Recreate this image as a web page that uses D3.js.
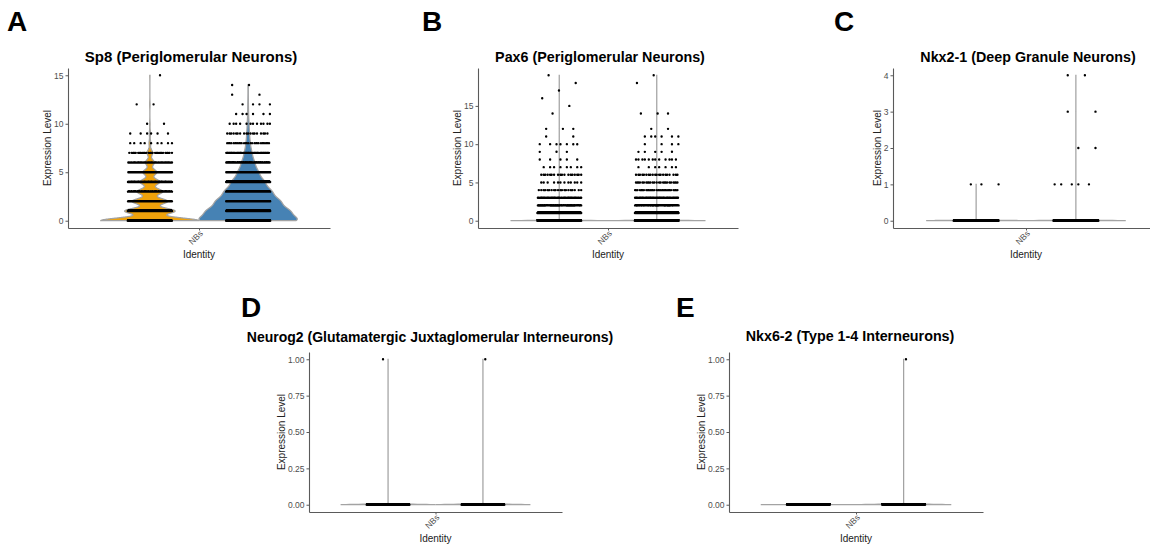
<!DOCTYPE html>
<html>
<head>
<meta charset="utf-8">
<script src="https://cdn.jsdelivr.net/npm/d3@7"></script>
<style>
  body { margin: 0; background: #fff; }
  svg { display: block; }
  text { font-family: "Liberation Sans", Arial, sans-serif; }
</style>
</head>
<body>
<svg id="fig" width="1150" height="548"></svg>
<script>
// Shared categories.
const identity = ['NBs']
const groups = ['g1', 'g2']
const groupColours = ['#EFA20B', '#4682B4']

// Sp8 (expression level -> number of cells per group).
const sp8Levels = [0, 1, 2, 3, 4, 5, 6, 7, 8, 9, 10, 11, 12, 13, 14, 15]
const sp8Left = [500, 255, 180, 130, 100, 70, 45, 28, 9, 6, 2, 0, 2, 0, 0, 1]
const sp8Right = [700, 540, 420, 310, 215, 135, 85, 50, 28, 18, 12, 6, 4, 2, 2, 0]

// Pax6.
const pax6Levels = [0, 1, 2, 3, 4, 5, 6, 7, 8, 9, 10, 11, 12, 13, 14, 15, 16, 17, 18, 19]
const pax6Left = [5000, 260, 90, 45, 20, 12, 18, 8, 5, 3, 7, 2, 3, 0, 1, 1, 1, 1, 1, 1]
const pax6Right = [5000, 280, 110, 50, 30, 25, 20, 7, 12, 5, 4, 6, 2, 0, 3, 0, 0, 0, 1, 1]

// Nkx2-1.
const nkx21Levels = [0, 1, 2, 3, 4]
const nkx21Left = [3000, 3, 0, 0, 0]
const nkx21Right = [3000, 5, 2, 2, 2]

// Neurog2.
const neurog2Levels = [0, 1]
const neurog2Left = [3000, 1]
const neurog2Right = [3000, 1]

// Nkx6-2.
const nkx62Levels = [0, 1]
const nkx62Left = [3000, 0]
const nkx62Right = [3000, 1]

// Tick labels.
const ticksSp8 = [0, 5, 10, 15]
const ticksPax6 = [0, 5, 10, 15]
const ticksNkx21 = [0, 1, 2, 3, 4]
const ticksFrac = [0, 0.25, 0.5, 0.75, 1]

const svg = d3.select('#fig')

// Panel layout (pixel frame of each plot area) and kernel bandwidths.
const panels = [
  { letter: 'A', lx: 7, ly: 31, title: 'Sp8 (Periglomerular Neurons)', tx: 191, ty: 62, tsize: 15,
    left: 68, right: 330, top: 68, bottom: 228,
    levels: sp8Levels, counts: [sp8Left, sp8Right], bw: [0.3, 0.5],
    ticks: ticksSp8, fmt: d3.format('d') },
  { letter: 'B', lx: 422, ly: 31, title: 'Pax6 (Periglomerular Neurons)', tx: 600, ty: 62, tsize: 14.3,
    left: 478, right: 738, top: 68, bottom: 228,
    levels: pax6Levels, counts: [pax6Left, pax6Right], bw: [0.04, 0.04],
    ticks: ticksPax6, fmt: d3.format('d') },
  { letter: 'C', lx: 834, ly: 31, title: 'Nkx2-1 (Deep Granule Neurons)', tx: 1028, ty: 62, tsize: 14.3,
    left: 893, right: 1159, top: 68, bottom: 228,
    levels: nkx21Levels, counts: [nkx21Left, nkx21Right], bw: [0.01, 0.01],
    ticks: ticksNkx21, fmt: d3.format('d') },
  { letter: 'D', lx: 241, ly: 317, title: 'Neurog2 (Glutamatergic Juxtaglomerular Interneurons)', tx: 430, ty: 342, tsize: 14,
    left: 309, right: 562, top: 352, bottom: 512,
    levels: neurog2Levels, counts: [neurog2Left, neurog2Right], bw: [0.003, 0.003],
    ticks: ticksFrac, fmt: d3.format('.2f') },
  { letter: 'E', lx: 676, ly: 317, title: 'Nkx6-2 (Type 1-4 Interneurons)', tx: 850, ty: 341, tsize: 14.3,
    left: 729, right: 983, top: 352, bottom: 512,
    levels: nkx62Levels, counts: [nkx62Left, nkx62Right], bw: [0.003, 0.003],
    ticks: ticksFrac, fmt: d3.format('.2f') }
]

panels.forEach(drawPanel)

function drawPanel(p) {
  const g = svg.append('g')

  // Panel letter.
  g.append('text')
    .attr('x', p.lx).attr('y', p.ly)
    .attr('font-size', 28).attr('font-weight', 'bold')
    .attr('fill', '#000')
    .text(p.letter)

  // Scales: discrete x with ggplot's 0.6 expansion, linear y with 5%.
  const x = d3.scalePoint().domain(identity).range([p.left, p.right]).padding(0.6)
  const unit = (p.right - p.left) / 1.2
  const cx = x(identity[0])
  const dodge = d3.scaleBand().domain(groups).range([cx - 0.45 * unit, cx + 0.45 * unit])
  const ymax = d3.max(p.levels)
  const y = d3.scaleLinear().domain([-0.05 * ymax, 1.05 * ymax]).range([p.bottom, p.top])

  // Title.
  g.append('text')
    .attr('x', p.tx)
    .attr('y', p.ty)
    .attr('text-anchor', 'middle')
    .attr('font-size', p.tsize).attr('font-weight', 'bold')
    .text(p.title)

  // Violins (kernel density, trimmed to the data range, scaled to equal width).
  groups.forEach((grp, gi) => {
    const counts = p.counts[gi]
    const present = p.levels.filter((l, i) => counts[i] > 0)
    const lo = d3.min(present), hi = d3.max(present)
    const n = 2048
    const grid = d3.range(n).map(i => lo + (hi - lo) * i / (n - 1))
    const bw = p.bw[gi]
    const dens = grid.map(v => d3.sum(p.levels, (l, i) =>
      counts[i] * Math.exp(-0.5 * ((v - l) / bw) ** 2)))
    const dmax = d3.max(dens)
    const half = dodge.bandwidth() / 2
    const gc = dodge(grp) + half
    const w = d3.scaleLinear().domain([0, dmax]).range([0, half])
    const area = d3.area()
      .y((d, i) => y(grid[i]))
      .x0((d, i) => gc - w(d))
      .x1((d, i) => gc + w(d))
    g.append('path')
      .datum(dens)
      .attr('d', area)
      .attr('fill', groupColours[gi])
      .attr('stroke', '#a3a3a3')
      .attr('stroke-width', 1.25)
  })

  // Jittered points (deterministic low-discrepancy jitter).
  groups.forEach((grp, gi) => {
    const counts = p.counts[gi]
    const half = dodge.bandwidth() / 2
    const gc = dodge(grp) + half
    const jw = 0.45 * half
    const r = 1.2
    let dstr = ''
    p.levels.forEach((l, li) => {
      const py = y(l)
      for (let i = 0; i < counts[li]; i++) {
        const f = (i * 0.6180339887 + l * 0.381966 + gi * 0.173) % 1
        const px = gc + (f * 2 - 1) * jw
        dstr += 'M' + (px + r).toFixed(2) + ',' + py.toFixed(2) +
          'A' + r + ',' + r + ',0,1,1,' + (px - r).toFixed(2) + ',' + py.toFixed(2) +
          'A' + r + ',' + r + ',0,1,1,' + (px + r).toFixed(2) + ',' + py.toFixed(2) + 'Z'
      }
    })
    g.append('path').attr('d', dstr).attr('fill', '#000')
  })

  // Axes.
  const yAxis = g.append('g')
    .attr('transform', 'translate(' + p.left + ',0)')
    .call(d3.axisLeft(y).tickValues(p.ticks).tickFormat(p.fmt).tickSize(2.5).tickSizeOuter(0).tickPadding(2))
  const xAxis = g.append('g')
    .attr('transform', 'translate(0,' + p.bottom + ')')
    .call(d3.axisBottom(x).tickSize(2.5).tickSizeOuter(0).tickPadding(2))

  ;[yAxis, xAxis].forEach(a => {
    a.select('.domain').attr('stroke', '#5a5a5a').attr('stroke-width', 1.1)
    a.selectAll('.tick line').attr('stroke', '#5a5a5a')
    a.selectAll('.tick text')
      .attr('fill', '#4d4d4d')
      .attr('font-size', 8.5)
      .attr('font-family', '"Liberation Sans", Arial, sans-serif')
  })
  xAxis.selectAll('.tick text')
    .attr('text-anchor', 'end')
    .attr('dy', null).attr('y', 0)
    .attr('transform', 'translate(4,6) rotate(-45)')

  // Axis titles (y title sits clear of the widest tick label).
  let tickW = 0
  yAxis.selectAll('.tick text').each(function () { tickW = Math.max(tickW, this.getBBox().width) })
  g.append('text')
    .attr('transform', 'translate(' + (p.left - tickW - 7) + ',' + ((p.top + p.bottom) / 2) + ') rotate(-90)')
    .attr('text-anchor', 'middle')
    .attr('font-size', 10).attr('fill', '#222')
    .text('Expression Level')
  g.append('text')
    .attr('x', cx).attr('y', p.bottom + 30)
    .attr('text-anchor', 'middle')
    .attr('font-size', 10).attr('fill', '#222')
    .text('Identity')
}
</script>
</body>
</html>
